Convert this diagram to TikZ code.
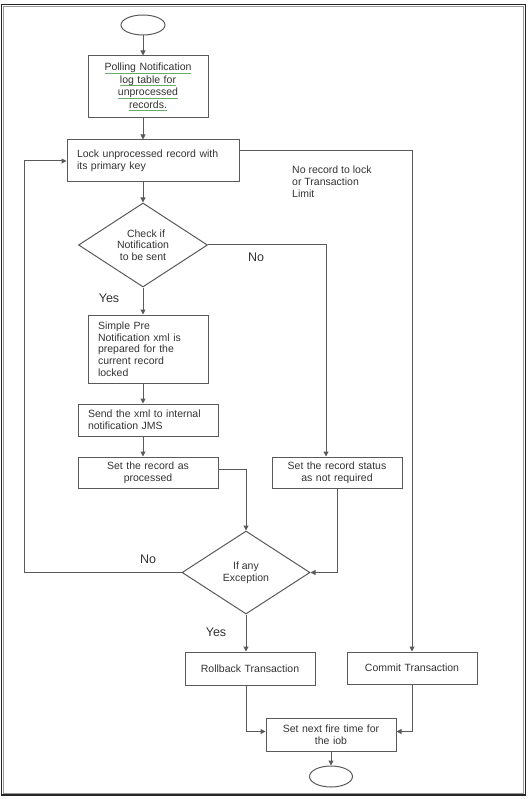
\documentclass[tikz,border=0pt]{standalone}
\usepackage{fontspec}
\setmainfont{Liberation Sans}
\usetikzlibrary{shapes.geometric,arrows.meta,calc}
\definecolor{ln}{HTML}{5A5A5A}
\definecolor{txt}{HTML}{333333}
\definecolor{ulg}{HTML}{6AAA6A}
\newsavebox\gubox
\newcommand\gu[1]{\leavevmode\sbox\gubox{#1}\rlap{\color{ulg}\rule[-2.5pt]{\wd\gubox}{0.7pt}}\usebox\gubox}
\begin{document}
\begin{tikzpicture}[x=1pt,y=-1pt,
  font=\fontsize{10.5}{11.7}\selectfont, text=txt,
  lbox/.style={draw=ln,line width=1pt,rectangle,inner xsep=10pt,inner ysep=0pt,align=left},
  cbox/.style={draw=ln,line width=1pt,rectangle,inner xsep=10pt,inner ysep=0pt,align=center},
  dia/.style={draw=ln,line width=1pt,diamond,aspect=1.5,inner sep=0pt,align=center},
  term/.style={draw=ln,line width=1pt,ellipse,inner sep=0pt},
  arr/.style={draw=ln,line width=1pt,-{Triangle[length=5pt,width=5pt]}},
  lin/.style={draw=ln,line width=1pt},
  lbl/.style={font=\fontsize{12.5}{14}\selectfont,inner sep=0pt}]
\useasboundingbox (0,0) rectangle (528,799);
\draw[black!85,line width=1.5pt] (1.5,4.5) rectangle (525.5,795);
\draw[black!40,line width=1pt] (3.5,6.5) rectangle (523.5,793);

\coordinate (colA) at (143,0);
\coordinate (colC) at (326,0);
\coordinate (loopx) at (24,0);

\node[term,minimum width=44pt,minimum height=20pt] (start) at (143,25) {};
\node[cbox,text width=100pt,minimum height=62pt,font=\fontsize{10.5}{12.5}\selectfont] (poll) at (148,87)
  {\gu{Polling Notification}\\ \gu{log table for}\\ \gu{unprocessed}\\ \gu{records.}};
\node[lbox,text width=152pt,minimum height=42pt] (lock) at (153,161)
  {Lock unprocessed record with\\ its primary key};
\node[dia,minimum width=129pt,minimum height=84pt] (chk) at (143,245)
  {\hspace*{6pt}Check if\\ Notification\\ to be sent};
\node[lbox,text width=100pt,minimum height=68pt] (xml) at (148,349)
  {Simple Pre\\ Notification xml is\\ prepared for the\\ current record\\ locked};
\node[lbox,text width=120pt,minimum height=32pt] (send) at (148,420)
  {Send the xml to internal\\ notification JMS};
\node[cbox,text width=120pt,minimum height=31pt] (proc) at (148,472.5)
  {Set the record as\\ processed};
\node[cbox,text width=110pt,minimum height=31pt] (notreq) at (337,472.5)
  {Set the record status\\ as not required};
\node[dia,minimum width=128pt,minimum height=83pt] (exc) at (246,572.5)
  {If any\\ Exception};
\node[cbox,text width=110pt,minimum height=33pt] (rollback) at (250,668.5)
  {Rollback Transaction};
\node[cbox,text width=110pt,minimum height=32pt] (commit) at (412,668)
  {Commit Transaction};
\node[cbox,text width=110pt,minimum height=33pt] (fire) at (331,734.5)
  {Set next fire time for\\ the iob};
\node[term,minimum width=43pt,minimum height=21pt] (end) at (331,776.5) {};

\node[anchor=north west,align=left,inner sep=0pt] (limit) at (292,166)
  {No record to lock\\ or Transaction\\ Limit};
\node[lbl] (no1) at (256,257) {No};
\node[lbl] (yes1) at (109,298) {Yes};
\node[lbl] (no2) at (148,559) {No};
\node[lbl] (yes2) at (216,632) {Yes};

\draw[arr] (start.south) -- (poll.north -| start.south);
\draw[arr] (poll.south -| colA) -- (lock.north -| colA);
\draw[arr] (lock.south -| colA) -- (chk.north);
\draw[arr] (chk.south) -- (xml.north -| chk.south);
\draw[arr] (xml.south -| colA) -- (send.north -| colA);
\draw[arr] (send.south -| colA) -- (proc.north -| colA);
\draw[arr] (chk.east) -| (notreq.north -| colC);
\draw[arr] ([yshift=3pt]proc.east) -| (exc.north);
\draw[arr] (notreq.south) |- (exc.east);
\draw[arr] (exc.west) -- (exc.west -| loopx) |- (lock.west);
\draw[arr] (exc.south) -- (rollback.north -| exc.south);
\draw[arr] ([yshift=10pt]lock.east) -| (commit.north);
\draw[arr] (rollback.south -| exc.south) |- ([yshift=3pt]fire.west);
\draw[arr] (commit.south) |- ([yshift=3pt]fire.east);
\draw[arr] (fire.south) -- (end.north);
\end{tikzpicture}
\end{document}
